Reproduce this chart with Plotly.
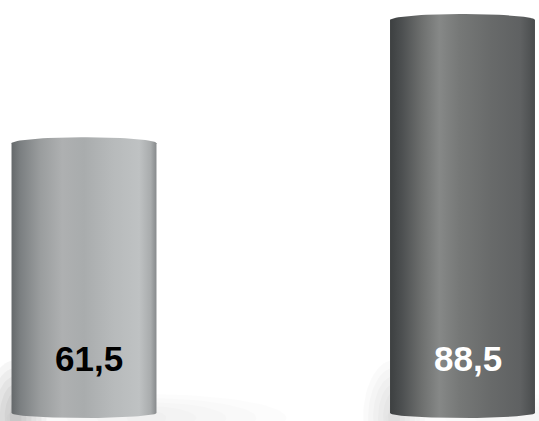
import numpy as np
import plotly.graph_objects as go

categories = ["A", "B"]
values = [61.5, 88.5]
labels = ["61,5", "88,5"]
label_colors = ["#000000", "#ffffff"]
gradients = [
    [[0.0, "#65696b"], [0.06, "#7b7f81"], [0.2, "#9a9d9e"], [0.35, "#aeb0b1"],
     [0.5, "#a9acad"], [0.7, "#b7babb"], [0.88, "#bfc2c3"], [0.96, "#a9acad"], [1.0, "#878a8c"]],
    [[0.0, "#3d4041"], [0.08, "#4c4f50"], [0.22, "#6e706f"], [0.34, "#868887"],
     [0.48, "#767877"], [0.7, "#686a6a"], [0.9, "#5f6162"], [1.0, "#494c4d"]],
]

PX_PER_UNIT = 404 / 88.5
X_PX = 378.5
BAR_W = 0.383
TOP_R = 6 / PX_PER_UNIT
BOT_R = 5 / PX_PER_UNIT

fig = go.Figure()


def blob(cx, rx_px, ry_px, alpha):
    t = np.linspace(0, 2 * np.pi, 80)
    fig.add_trace(go.Scatter(
        x=cx + (rx_px / X_PX) * np.cos(t), y=(ry_px / PX_PER_UNIT) * np.sin(t),
        mode="lines", fill="toself", line=dict(width=0, color="rgba(0,0,0,0)"),
        fillcolor="rgba(0,0,0,%.3f)" % alpha, hoverinfo="skip", showlegend=False,
    ))


# soft base shadows
for i, v in enumerate(values):
    h = BAR_W / 2
    strength = 1.0 if i == 0 else 0.5
    for k in range(6):
        blob(i - h + 4 / X_PX, 6 + 5 * k, 18 + 8 * k, 0.035 * strength)
    for k in range(5):
        blob(i + h - 10 / X_PX, 20 + 30 * k, 8 + 4 * k, 0.012 * strength)

for i, (cat, v) in enumerate(zip(categories, values)):
    xc = i
    h = BAR_W / 2
    tb = np.linspace(np.pi, 2 * np.pi, 40)
    tt = np.linspace(0, np.pi, 40)
    xs = np.concatenate([xc + h * np.cos(tb), xc + h * np.cos(tt)])
    ys = np.concatenate([BOT_R + BOT_R * np.sin(tb), v - TOP_R + TOP_R * np.sin(tt)])
    xs = np.append(xs, xs[0])
    ys = np.append(ys, ys[0])
    fig.add_trace(go.Scatter(
        x=xs, y=ys, mode="lines", fill="toself",
        line=dict(width=0, color="rgba(0,0,0,0)"),
        fillgradient=dict(type="horizontal", colorscale=gradients[i]),
        hoverinfo="skip", showlegend=False,
    ))
    fig.add_annotation(
        x=xc, y=0, text=labels[i], showarrow=False,
        xshift=5, yshift=60, yanchor="middle",
        font=dict(family="Liberation Sans, Arial", size=35, color=label_colors[i], weight="bold"),
    )

fig.update_layout(
    width=539, height=421,
    margin=dict(l=0, r=0, t=0, b=0),
    paper_bgcolor="white", plot_bgcolor="white",
    xaxis=dict(visible=False, range=[-84 / X_PX, 1 + (539 - 462.5) / X_PX]),
    yaxis=dict(visible=False, range=[-3 / PX_PER_UNIT, 418 / PX_PER_UNIT]),
)
fig.write_html("out.html")
